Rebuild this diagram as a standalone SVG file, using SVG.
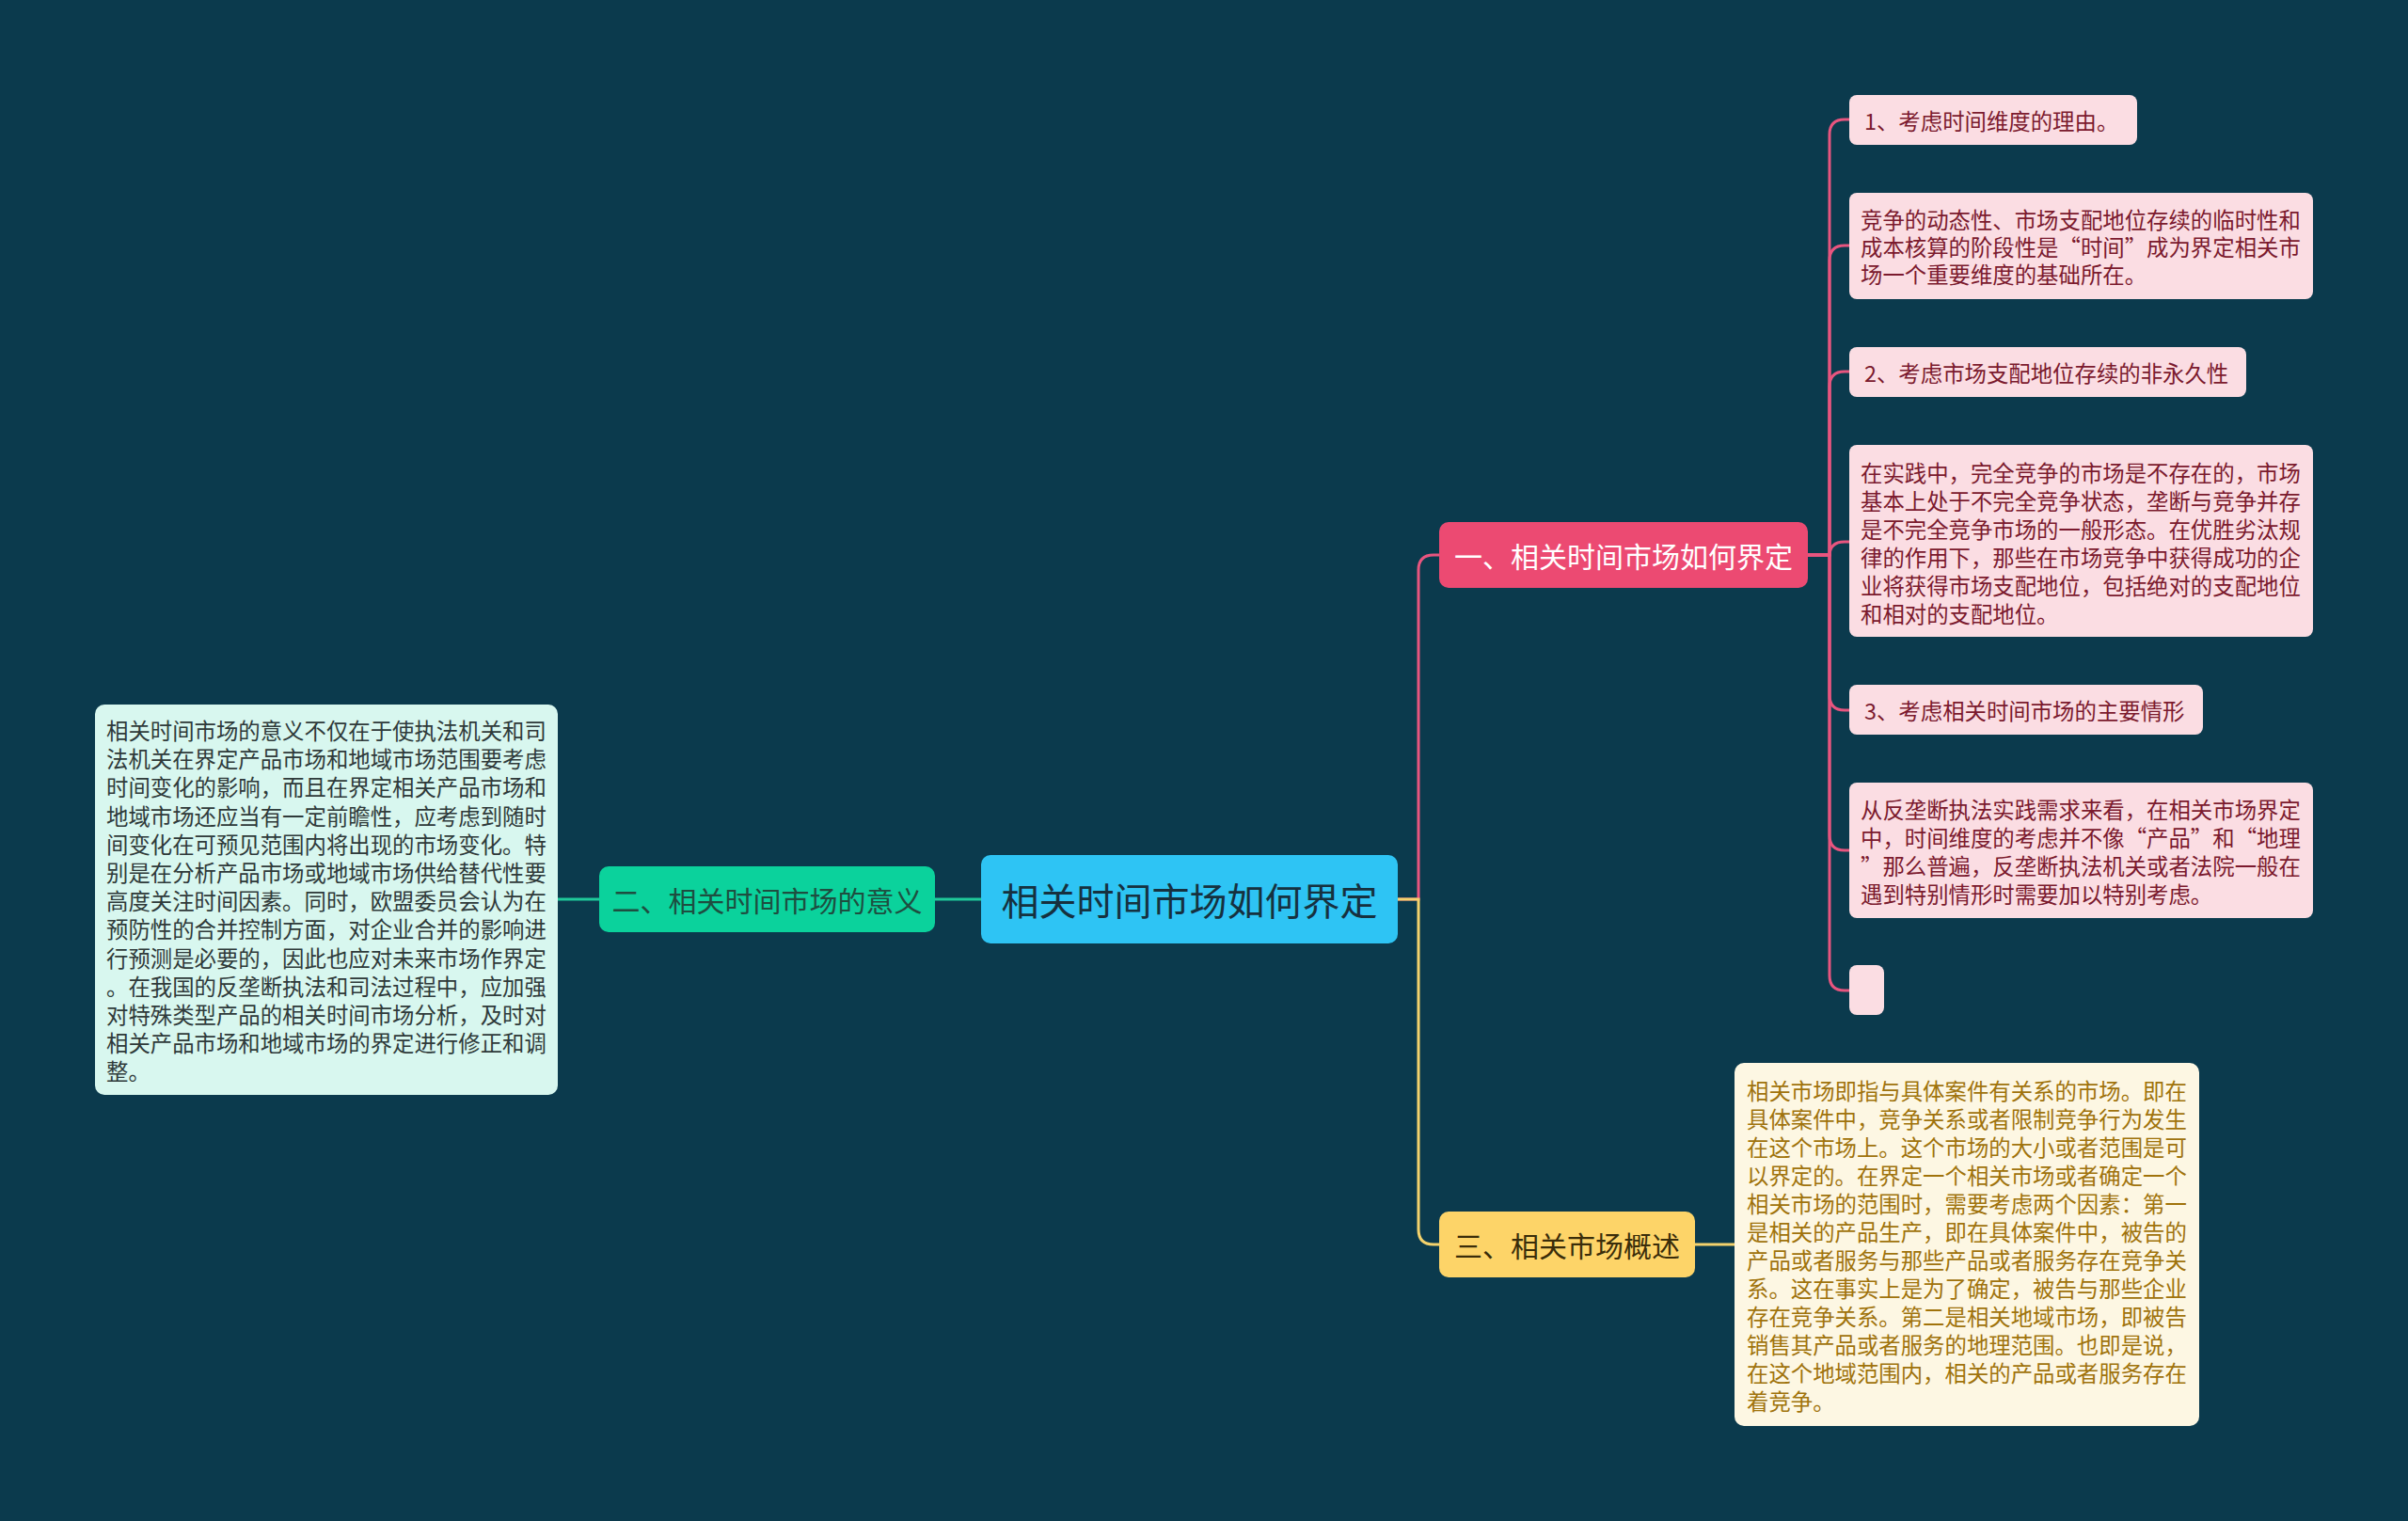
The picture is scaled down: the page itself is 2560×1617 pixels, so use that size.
<svg xmlns="http://www.w3.org/2000/svg" width="2560" height="1617" viewBox="0 0 2560 1617">
<style>
text{font-family:"Noto Sans CJK SC","Noto Sans",sans-serif;dominant-baseline:central}
.pk{fill:#fbdde3}
.pkt{fill:#7b1a2e;font-size:23.4px}
.lt{fill:#2f3a3a;font-size:23.4px}
.yt{fill:#a0730c;font-size:23.4px}
.ln{fill:none;stroke-width:3;stroke-linecap:round}
</style>
<rect x="0" y="0" width="2560" height="1617" fill="#0b3a4d"/>
<g id="connectors">
<path class="ln" stroke="#1fc99a" d="M994,956 H1043"/>
<path class="ln" stroke="#1fc99a" d="M593,956 H637"/>
<path class="ln" stroke="#e8557f" d="M1486,956 H1508 V606 Q1508,590 1524,590 H1530"/>
<path class="ln" stroke="#f4d26c" d="M1486,956 H1508 V1307 Q1508,1323 1524,1323 H1530"/>
<path class="ln" stroke="#f4d26c" d="M1802,1323 H1844"/>
<g stroke="#e8557f" class="ln">
<path class="ln" d="M1922,590 H1945 V143 Q1945,127 1961,127 H1966"/>
<path class="ln" d="M1922,590 H1945 V277 Q1945,261 1961,261 H1966"/>
<path class="ln" d="M1922,590 H1945 V411 Q1945,395 1961,395 H1966"/>
<path class="ln" d="M1922,590 H1945 V591 Q1945,576 1961,576 H1966"/>
<path class="ln" d="M1922,590 H1945 V739 Q1945,755 1961,755 H1966"/>
<path class="ln" d="M1922,590 H1945 V888 Q1945,904 1961,904 H1966"/>
<path class="ln" d="M1922,590 H1945 V1037 Q1945,1053 1961,1053 H1966"/>
</g>
</g>
<g id="root">
<rect x="1043" y="909" width="443" height="94" rx="10" fill="#2ec4f4"/>
<text x="1264.5" y="956" text-anchor="middle" font-size="40" fill="#16313f">相关时间市场如何界定</text>
</g>
<g id="n2">
<rect x="637" y="921" width="357" height="70" rx="10" fill="#0bd29c"/>
<text x="815.5" y="956" text-anchor="middle" font-size="30" fill="#1e4e40">二、相关时间市场的意义</text>
</g>
<g id="n2-text">
<rect x="101" y="749" width="492" height="415" rx="10" fill="#d8f7ef"/>
<text class="lt" x="113" y="776">相关时间市场的意义不仅在于使执法机关和司</text>
<text class="lt" x="113" y="806.2">法机关在界定产品市场和地域市场范围要考虑</text>
<text class="lt" x="113" y="836.4">时间变化的影响，而且在界定相关产品市场和</text>
<text class="lt" x="113" y="866.6">地域市场还应当有一定前瞻性，应考虑到随时</text>
<text class="lt" x="113" y="896.8">间变化在可预见范围内将出现的市场变化。特</text>
<text class="lt" x="113" y="927">别是在分析产品市场或地域市场供给替代性要</text>
<text class="lt" x="113" y="957.2">高度关注时间因素。同时，欧盟委员会认为在</text>
<text class="lt" x="113" y="987.4">预防性的合并控制方面，对企业合并的影响进</text>
<text class="lt" x="113" y="1017.6">行预测是必要的，因此也应对未来市场作界定</text>
<text class="lt" x="113" y="1047.8">。在我国的反垄断执法和司法过程中，应加强</text>
<text class="lt" x="113" y="1078">对特殊类型产品的相关时间市场分析，及时对</text>
<text class="lt" x="113" y="1108.2">相关产品市场和地域市场的界定进行修正和调</text>
<text class="lt" x="113" y="1138.4">整。</text>
</g>
<g id="n1">
<rect x="1530" y="555" width="392" height="70" rx="10" fill="#ec4a72"/>
<text x="1726" y="590" text-anchor="middle" font-size="30" fill="#ffffff">一、相关时间市场如何界定</text>
</g>
<g id="n1-c1">
<rect class="pk" x="1966" y="101" width="306" height="53" rx="8"/>
<text class="pkt" x="1982" y="127.5">1、考虑时间维度的理由。</text>
</g>
<g id="n1-c2">
<rect class="pk" x="1966" y="205" width="493" height="113" rx="8"/>
<text class="pkt" x="1978" y="233">竞争的动态性、市场支配地位存续的临时性和</text>
<text class="pkt" x="1978" y="262">成本核算的阶段性是“时间”成为界定相关市</text>
<text class="pkt" x="1978" y="291">场一个重要维度的基础所在。</text>
</g>
<g id="n1-c3">
<rect class="pk" x="1966" y="369" width="422" height="53" rx="8"/>
<text class="pkt" x="1982" y="395.5">2、考虑市场支配地位存续的非永久性</text>
</g>
<g id="n1-c4">
<rect class="pk" x="1966" y="473" width="493" height="204" rx="8"/>
<text class="pkt" x="1978" y="502">在实践中，完全竞争的市场是不存在的，市场</text>
<text class="pkt" x="1978" y="532">基本上处于不完全竞争状态，垄断与竞争并存</text>
<text class="pkt" x="1978" y="562">是不完全竞争市场的一般形态。在优胜劣汰规</text>
<text class="pkt" x="1978" y="592">律的作用下，那些在市场竞争中获得成功的企</text>
<text class="pkt" x="1978" y="622">业将获得市场支配地位，包括绝对的支配地位</text>
<text class="pkt" x="1978" y="652">和相对的支配地位。</text>
</g>
<g id="n1-c5">
<rect class="pk" x="1966" y="728" width="376" height="53" rx="8"/>
<text class="pkt" x="1982" y="754.5">3、考虑相关时间市场的主要情形</text>
</g>
<g id="n1-c6">
<rect class="pk" x="1966" y="832" width="493" height="144" rx="8"/>
<text class="pkt" x="1978" y="860">从反垄断执法实践需求来看，在相关市场界定</text>
<text class="pkt" x="1978" y="890">中，时间维度的考虑并不像“产品”和“地理</text>
<text class="pkt" x="1978" y="920">”那么普遍，反垄断执法机关或者法院一般在</text>
<text class="pkt" x="1978" y="950">遇到特别情形时需要加以特别考虑。</text>
</g>
<g id="n1-c7">
<rect class="pk" x="1966" y="1026" width="37" height="53" rx="8"/>
</g>
<g id="n3">
<rect x="1530" y="1288" width="272" height="70" rx="10" fill="#fdd468"/>
<text x="1666" y="1323" text-anchor="middle" font-size="30" fill="#3a2d0a">三、相关市场概述</text>
</g>
<g id="n3-text">
<rect x="1844" y="1130" width="494" height="386" rx="10" fill="#fdf7e3"/>
<text class="yt" x="1857" y="1159">相关市场即指与具体案件有关系的市场。即在</text>
<text class="yt" x="1857" y="1189">具体案件中，竞争关系或者限制竞争行为发生</text>
<text class="yt" x="1857" y="1219">在这个市场上。这个市场的大小或者范围是可</text>
<text class="yt" x="1857" y="1249">以界定的。在界定一个相关市场或者确定一个</text>
<text class="yt" x="1857" y="1279">相关市场的范围时，需要考虑两个因素：第一</text>
<text class="yt" x="1857" y="1309">是相关的产品生产，即在具体案件中，被告的</text>
<text class="yt" x="1857" y="1339">产品或者服务与那些产品或者服务存在竞争关</text>
<text class="yt" x="1857" y="1369">系。这在事实上是为了确定，被告与那些企业</text>
<text class="yt" x="1857" y="1399">存在竞争关系。第二是相关地域市场，即被告</text>
<text class="yt" x="1857" y="1429">销售其产品或者服务的地理范围。也即是说，</text>
<text class="yt" x="1857" y="1459">在这个地域范围内，相关的产品或者服务存在</text>
<text class="yt" x="1857" y="1489">着竞争。</text>
</g>
</svg>
